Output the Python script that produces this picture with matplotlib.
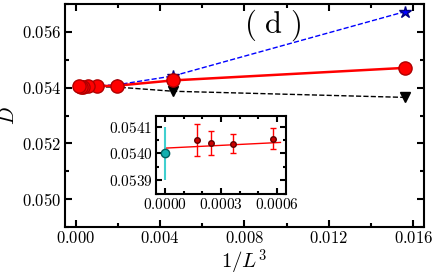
import numpy as np
import matplotlib
matplotlib.use("Agg")
import matplotlib.pyplot as plt
from matplotlib.ticker import MultipleLocator, FuncFormatter

plt.rcParams['mathtext.fontset'] = 'cm'
plt.rcParams['font.family'] = 'serif'
plt.rcParams['font.serif'] = ['DejaVu Serif']

# system sizes and data
L = np.array([4, 6, 8, 10, 12, 14, 16, 18])
inv_L3 = 1.0 / L.astype(float) ** 3
D_circle = [0.05471, 0.05426, 0.05407, 0.05405, 0.054055, 0.054036, 0.054040, 0.054051]
D_star = [0.05673, 0.05442, 0.05410, 0.05407, 0.05406, 0.05405, 0.05405, 0.05405]
D_tri = [0.05365, 0.05387, 0.05402, 0.05403, 0.05403, 0.05402, 0.05403, 0.05403]

# inset: large sizes with error bars and extrapolation
L_in = np.array([12, 14, 16, 18])
x_in = 1.0 / L_in.astype(float) ** 3
D_in = [0.054055, 0.054036, 0.054040, 0.054051]
err_in = [0.00004, 0.000036, 0.000045, 0.00006]
D_extrap = 0.05400
err_extrap = 0.0001
fit_a, fit_b = 0.05402, 0.034
fit_x = [0.0, 0.00062]


def tick_fmt(nd):
    return FuncFormatter(lambda v, p: '$%.*f$' % (nd, v))


def style_ticks(ax, size_major, size_minor):
    ax.tick_params(which='both', direction='in', top=True, right=True, width=1.5)
    ax.tick_params(which='major', length=size_major)
    ax.tick_params(which='minor', length=size_minor)
    for s in ax.spines.values():
        s.set_linewidth(1.5)


fig = plt.figure(figsize=(4.36, 2.77), dpi=100)
ax = fig.add_axes([0.149, 0.1805, 0.823, 0.805])

ax.plot(inv_L3, D_star, '--', color='blue', lw=1.0, marker='*', ms=9, mfc='blue', mec='navy', zorder=2)
ax.plot(inv_L3, D_tri, '--', color='black', lw=1.0, marker='v', ms=7.5, mfc='black', mec='black', zorder=2)
ax.plot(inv_L3, D_circle, '-', color='red', lw=1.8, marker='o', ms=9.5, mfc='red', mec='#b00000', zorder=3)

ax.set_xlim(-0.0005, 0.0165)
ax.set_ylim(0.049, 0.057)
ax.xaxis.set_major_locator(MultipleLocator(0.004))
ax.xaxis.set_minor_locator(MultipleLocator(0.002))
ax.yaxis.set_major_locator(MultipleLocator(0.002))
ax.yaxis.set_minor_locator(MultipleLocator(0.001))
ax.xaxis.set_major_formatter(tick_fmt(3))
ax.yaxis.set_major_formatter(tick_fmt(3))
ax.tick_params(labelsize=12, pad=2.5)
style_ticks(ax, 5, 3)
ax.set_xlabel('$1/L^3$', fontsize=15, labelpad=0)
ax.set_ylabel('$D$', fontsize=15, labelpad=3)
ax.text(0.58, 0.905, r'$\mathrm{(\ d\ )}$', transform=ax.transAxes, fontsize=22,
        ha='center', va='center')

# inset
axi = fig.add_axes([0.358, 0.30, 0.298, 0.282])
axi.plot(fit_x, [fit_a + fit_b * v for v in fit_x], '-', color='red', lw=1.0, zorder=1)
axi.errorbar(x_in, D_in, yerr=err_in, fmt='o', color='red', ms=4, mfc='#cc0000', mec='#600000',
             elinewidth=1.0, capsize=2.5, capthick=1.0, zorder=3)
axi.errorbar([0.0], [D_extrap], yerr=[err_extrap], fmt='o', color='#40d0d0', ms=6,
             mfc='#10b0b0', mec='#006060', elinewidth=1.5, capsize=0, zorder=3)
axi.set_xlim(-0.00005, 0.00065)
axi.set_ylim(0.05385, 0.05414)
axi.xaxis.set_major_locator(MultipleLocator(0.0003))
axi.xaxis.set_minor_locator(MultipleLocator(0.0001))
axi.yaxis.set_major_locator(MultipleLocator(0.0001))
axi.yaxis.set_minor_locator(MultipleLocator(0.00005))
axi.xaxis.set_major_formatter(tick_fmt(4))
axi.yaxis.set_major_formatter(tick_fmt(4))
axi.tick_params(labelsize=11, pad=2.5)
style_ticks(axi, 4, 2.5)

fig.savefig('out.png', dpi=100)
